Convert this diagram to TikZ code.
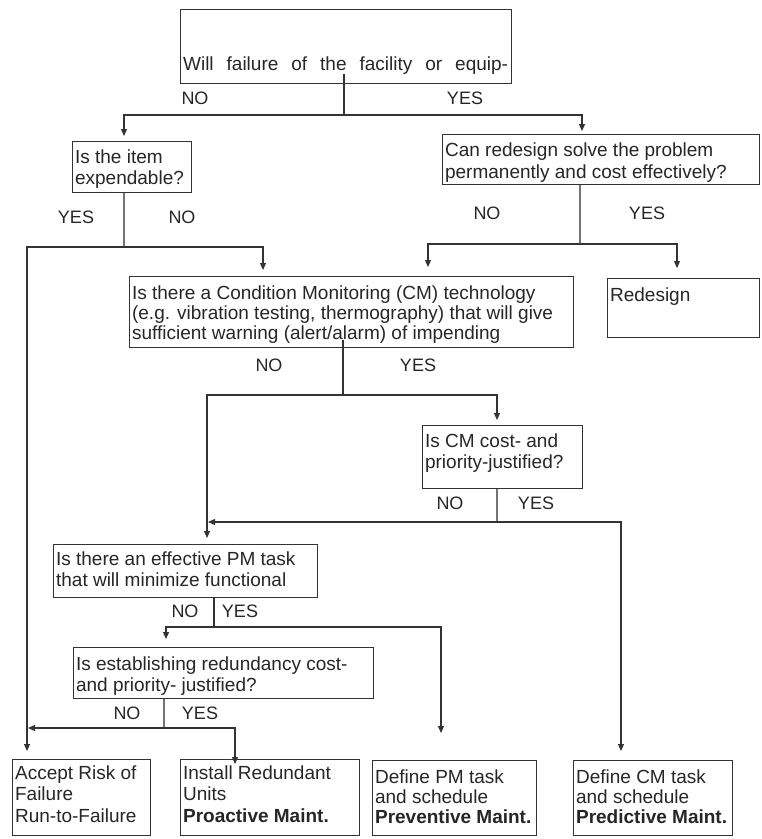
\documentclass[tikz,border=0pt]{standalone}
\usepackage{fontspec}
\setmainfont{Liberation Sans}
\usetikzlibrary{arrows.meta}
\newcommand{\bxt}[4]{\parbox[t][#2][t]{#1}{\raggedright\leftskip=2.5pt\relax\vspace*{#3}\strut #4}}
\tikzset{
  bx/.style={draw=black!80, line width=1.2pt, inner sep=0pt, anchor=north west,
    font=\fontsize{19}{21.5}\selectfont, text=black!85},
  lbl/.style={inner sep=0pt, font=\fontsize{18}{20}\selectfont, text=black!85},
  ln/.style={draw=black!80, line width=1.2pt},
  ar/.style={ln, -{Triangle[length=7pt,width=6pt]}},
  lg/.style={draw=black!55, line width=1.2pt},
}
\begin{document}
\begin{tikzpicture}[x=1pt,y=-1pt]
\useasboundingbox (0,0) rectangle (762,839);

% boxes
\node[bx] (top) at (180,9) {\bxt{331pt}{74pt}{46pt}{\makebox[325pt][s]{Will failure of the facility or equip-}}};
\node[bx] (item) at (72,141) {\bxt{119pt}{51pt}{6.5pt}{Is the item\\expendable?}};
\node[bx] (rq) at (442,134) {\bxt{317pt}{50pt}{7pt}{Can redesign solve the problem\\permanently and cost effectively?}};
\node[bx] (cm) at (129,276) {\bxt{444pt}{71pt}{8pt}{Is there a Condition Monitoring (CM) technology\\[-1.5pt](e.g. vibration testing, thermography) that will give\\[-1.5pt]sufficient warning (alert/alarm) of impending}};
\node[bx] (rd) at (607,278) {\bxt{152pt}{59pt}{7.5pt}{Redesign}};
\node[bx] (cmc) at (422,425) {\bxt{160pt}{63pt}{6.5pt}{Is CM cost- and\\priority-justified?}};
\node[bx] (pm) at (53,544) {\bxt{264pt}{53pt}{5.5pt}{Is there an effective PM task\\that will minimize functional}};
\node[bx] (red) at (73,647) {\bxt{300pt}{51pt}{7.5pt}{Is establishing redundancy cost-\\and priority- justified?}};
\node[bx] (acc) at (12,759) {\bxt{138pt}{76pt}{4.5pt}{Accept Risk of\\Failure\\Run-to-Failure}};
\node[bx] (ins) at (180,759) {\bxt{179pt}{76pt}{4.5pt}{Install Redundant\\Units\\\textbf{Proactive Maint.}}};
\node[bx] (dpm) at (372,760) {\bxt{164pt}{75pt}{8pt}{Define PM task\\[-1.5pt]and schedule\\[-1.5pt]\textbf{Preventive Maint.}}};
\node[bx] (dcm) at (573,760) {\bxt{159pt}{75pt}{8pt}{Define CM task\\[-1.5pt]and schedule\\[-1.5pt]\textbf{Predictive Maint.}}};

% labels
\node[lbl] (l1) at (195,98) {NO};
\node[lbl] (l2) at (465,98) {YES};
\node[lbl] (l3) at (76,217) {YES};
\node[lbl] (l4) at (182,217) {NO};
\node[lbl] (l5) at (487,213) {NO};
\node[lbl] (l6) at (647,213) {YES};
\node[lbl] (l7) at (269,365) {NO};
\node[lbl] (l8) at (418,365) {YES};
\node[lbl] (l9) at (450,503) {NO};
\node[lbl] (l10) at (536,503) {YES};
\node[lbl] (l11) at (185,611) {NO};
\node[lbl] (l12) at (240,611) {YES};
\node[lbl] (l13) at (127,713) {NO};
\node[lbl] (l14) at (200,713) {YES};

% junction coordinates
\coordinate (t0) at (344,74);
\coordinate (t1) at (344,115);
\coordinate (tLa) at (124,136);
\coordinate (tRa) at (582,131);
\coordinate (i1) at (124,247);
\coordinate (iLa) at (27,751);
\coordinate (iRa) at (263,270);
\coordinate (r1) at (580,244);
\coordinate (rLa) at (428,267);
\coordinate (rRa) at (677,268);
\coordinate (c0) at (343,340);
\coordinate (c1) at (343,395);
\coordinate (cLa) at (207,538);
\coordinate (cRa) at (497,420);
\coordinate (k1) at (497,522);
\coordinate (kLa) at (208,522);
\coordinate (kRa) at (621,751);
\coordinate (p1) at (214,627);
\coordinate (pLa) at (166,639);
\coordinate (pRa) at (441,733);
\coordinate (e1) at (164,728);
\coordinate (eLa) at (28,728);
\coordinate (eRa) at (235,764);

% connectors
\draw[ar] (t0) -- (t1) -| (tLa);
\draw[ar] (t1) -| (tRa);
\draw[lg] (item.south -| tLa) -- (i1);
\draw[ar] (i1) -| (iLa);
\draw[ar] (i1) -| (iRa);
\draw[lg] (rq.south -| r1) -- (r1);
\draw[ar] (r1) -| (rLa);
\draw[ar] (r1) -| (rRa);
\draw[ar] (c0) -- (c1) -| (cLa);
\draw[ar] (c1) -| (cRa);
\draw[lg] (cmc.south -| k1) -- (k1);
\draw[ar] (k1) -- (kLa);
\draw[ar] (k1) -| (kRa);
\draw[ln] (pm.south -| p1) -- (p1);
\draw[ar] (p1) -| (pLa);
\draw[ar] (p1) -| (pRa);
\draw[lg] (red.south -| e1) -- (e1);
\draw[ar] (e1) -- (eLa);
\draw[ar] (e1) -| (eRa);
\end{tikzpicture}
\end{document}
